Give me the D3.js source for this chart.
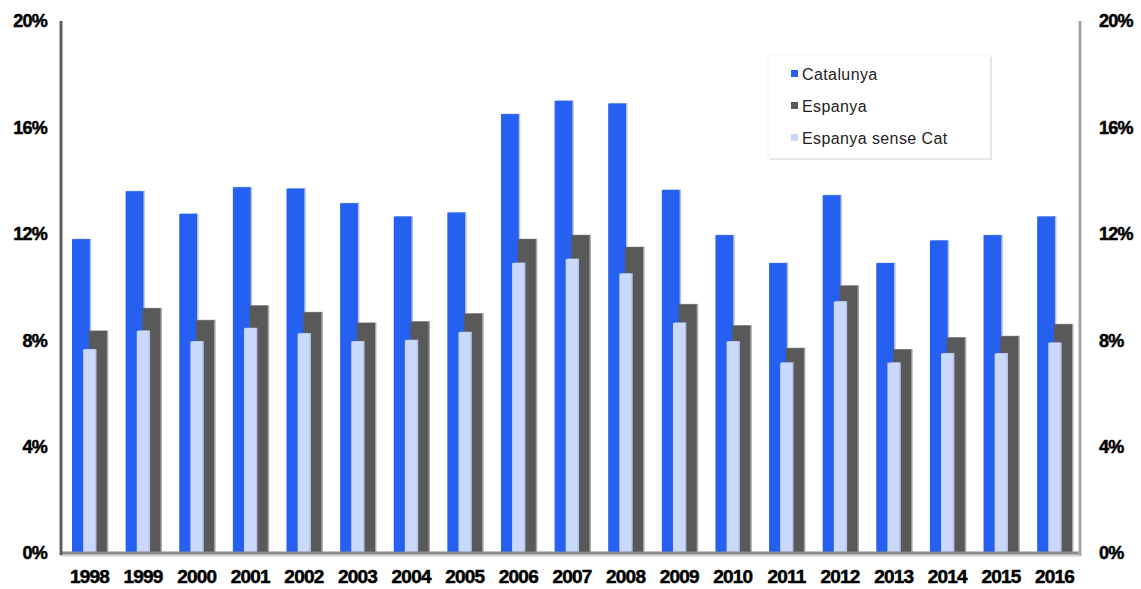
<!DOCTYPE html>
<html>
<head>
<meta charset="utf-8">
<script src="https://cdn.jsdelivr.net/npm/d3@7"></script>
<style>
  body { margin: 0; background: #fff; }
  svg { display: block; }
  .tick-label { font-family: "Liberation Sans", Arial, sans-serif; font-weight: bold; fill: #000;
    stroke: #000; stroke-width: 0.5px; }
  .legend-text { font-family: "Liberation Sans", Arial, sans-serif; fill: #222; }
</style>
</head>
<body>
<svg id="chart" width="1141" height="589"></svg>
<script>
  // --- data ---
  const years = ["1998", "1999", "2000", "2001", "2002", "2003", "2004", "2005", "2006",
    "2007", "2008", "2009", "2010", "2011", "2012", "2013", "2014", "2015", "2016"];
  const catalunya = [11.8, 13.6, 12.75, 13.75, 13.7, 13.15, 12.65, 12.8, 16.5,
    17.0, 16.9, 13.65, 11.95, 10.9, 13.45, 10.9, 11.75, 11.95, 12.65];
  const espanya = [8.35, 9.2, 8.75, 9.3, 9.05, 8.65, 8.7, 9.0, 11.8,
    11.95, 11.5, 9.35, 8.55, 7.7, 10.05, 7.65, 8.1, 8.15, 8.6];
  const espanyaSenseCat = [7.65, 8.35, 7.95, 8.45, 8.25, 7.95, 8.0, 8.3, 10.9,
    11.05, 10.5, 8.65, 7.95, 7.15, 9.45, 7.15, 7.5, 7.5, 7.9];
  const yTicks = [0, 4, 8, 12, 16, 20];
  const seriesNames = ["Catalunya", "Espanya", "Espanya sense Cat"];

  const colors = { cat: "#2660f0", esp: "#595959", espSc: "#c9d8fb" };

  const svg = d3.select("#chart");
  const plotTop = 21, plotBottom = 553, axisL = 61, axisR = 1080;

  const x = d3.scaleBand().domain(years).range([72, 1072]).paddingInner(0.35).paddingOuter(0);
  const y = d3.scaleLinear().domain([0, 20]).range([plotBottom, plotTop]);
  const bw = x.bandwidth();

  // bar slots inside each band (fraction of band width)
  const slots = {
    cat: [0, 0.51],
    esp: [0.485, 1.0],
    espSc: [0.32, 0.66]
  };

  function drawSeries(key, values) {
    const g = svg.append("g").attr("class", "series-" + key);
    const [a, b] = slots[key];
    // soft shadow on right / top edge
    g.selectAll("rect.shadow").data(values).enter().append("rect")
      .attr("class", "shadow")
      .attr("x", (d, i) => x(years[i]) + a * bw + 1.5)
      .attr("y", d => y(d) - 0.5)
      .attr("width", (b - a) * bw)
      .attr("height", d => plotBottom - y(d))
      .attr("fill", key === "esp" ? "#a8a8a8" : "#b4c0e8");
    g.selectAll("rect.bar").data(values).enter().append("rect")
      .attr("class", "bar")
      .attr("x", (d, i) => x(years[i]) + a * bw)
      .attr("y", d => y(d))
      .attr("width", (b - a) * bw)
      .attr("height", d => plotBottom - y(d))
      .attr("fill", colors[key]);
  }

  drawSeries("cat", catalunya);
  drawSeries("esp", espanya);
  drawSeries("espSc", espanyaSenseCat);

  // axes lines
  svg.append("line").attr("x1", axisL - 1).attr("x2", axisR + 2).attr("y1", plotBottom + 2.5).attr("y2", plotBottom + 2.5)
    .attr("stroke", "#d0d0d0").attr("stroke-width", 2);
  svg.append("line").attr("x1", axisL).attr("x2", axisR).attr("y1", plotBottom).attr("y2", plotBottom)
    .attr("stroke", "#8a8a8a").attr("stroke-width", 3);
  svg.append("line").attr("x1", axisL).attr("x2", axisL).attr("y1", plotTop).attr("y2", plotBottom + 2)
    .attr("stroke", "#5f5f5f").attr("stroke-width", 3);
  svg.append("line").attr("x1", axisR).attr("x2", axisR).attr("y1", plotTop).attr("y2", plotBottom + 2)
    .attr("stroke", "#a6a6a6").attr("stroke-width", 3);

  // y tick labels both sides
  const fmt = d => d + "%";
  svg.append("g").selectAll("text").data(yTicks).enter().append("text")
    .attr("class", "tick-label")
    .attr("x", 47).attr("y", d => y(d)).attr("dy", "0.36em")
    .attr("text-anchor", "end").attr("font-size", 18)
    .attr("letter-spacing", -0.8)
    .text(fmt);
  svg.append("g").selectAll("text").data(yTicks).enter().append("text")
    .attr("class", "tick-label")
    .attr("x", 1099).attr("y", d => y(d)).attr("dy", "0.36em")
    .attr("text-anchor", "start").attr("font-size", 18)
    .attr("letter-spacing", -0.8)
    .text(fmt);

  // x labels
  svg.append("g").selectAll("text").data(years).enter().append("text")
    .attr("class", "tick-label")
    .attr("x", d => x(d) + bw / 2).attr("y", 576).attr("dy", "0.36em")
    .attr("text-anchor", "middle").attr("font-size", 19)
    .attr("letter-spacing", -0.8)
    .text(d => d);

  // legend
  const lg = svg.append("g").attr("transform", "translate(768,55)");
  lg.append("rect").attr("x", 2).attr("y", 2).attr("width", 222).attr("height", 103).attr("fill", "#e4e4e4");
  lg.append("rect").attr("width", 222).attr("height", 103).attr("fill", "#fff")
    .attr("stroke", "#f2f2f2").attr("stroke-width", 1);
  const legendKeys = ["cat", "esp", "espSc"];
  seriesNames.forEach((name, i) => {
    const row = lg.append("g").attr("transform", `translate(0,${19 + i * 32})`);
    row.append("rect").attr("x", 23).attr("y", -4).attr("width", 7).attr("height", 7)
      .attr("fill", colors[legendKeys[i]]);
    row.append("text").attr("class", "legend-text")
      .attr("x", 34).attr("y", 0).attr("dy", "0.35em")
      .attr("font-size", 16).attr("letter-spacing", 0.4)
      .text(name);
  });
</script>
</body>
</html>
